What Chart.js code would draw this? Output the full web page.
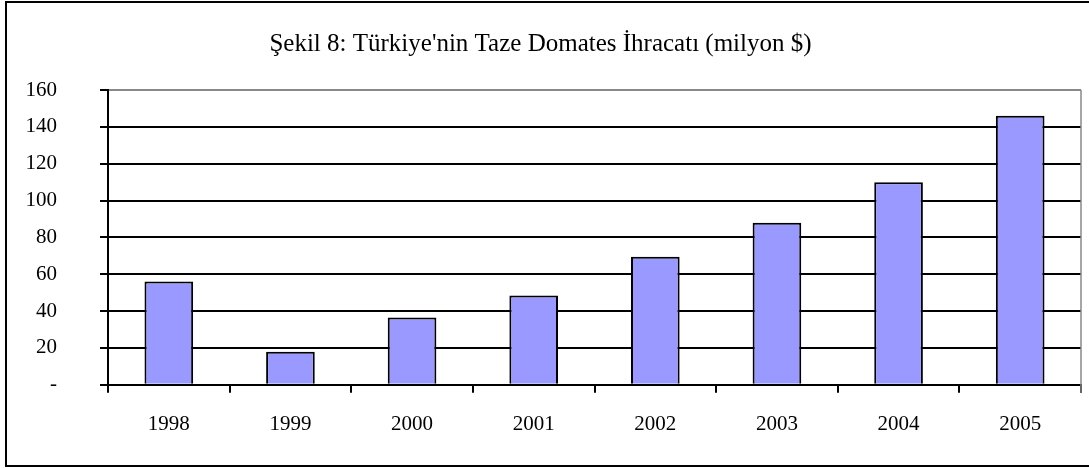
<!DOCTYPE html>
<html>
<head>
<meta charset="utf-8">
<script src="https://cdn.jsdelivr.net/npm/chart.js@4"></script>
<style>
  html, body { margin: 0; padding: 0; background: #fff; }
  #wrap { width: 1089px; height: 468px; }
</style>
</head>
<body>
<div id="wrap"><canvas id="chart"></canvas></div>
<script>
// data
const years = ['1998', '1999', '2000', '2001', '2002', '2003', '2004', '2005'];
const exportValues = [56, 18, 36.5, 48.5, 69.5, 88, 110, 146];
const yTicks = [0, 20, 40, 60, 80, 100, 120, 140, 160];
const chartTitle = "Şekil 8: Türkiye'nin Taze Domates İhracatı (milyon $)";

const serif = 'Liberation Serif, Times New Roman, serif';

// outer frame and gray right edge of the plot
const framePlugin = {
    id: 'frame',
    afterDraw(chart) {
        const ctx = chart.ctx;
        const a = chart.chartArea;
        ctx.save();
        ctx.strokeStyle = '#888';
        ctx.lineWidth = 1.5;
        ctx.beginPath();
        ctx.moveTo(a.right, a.top);
        ctx.lineTo(a.right, a.bottom + 8);
        ctx.stroke();
        ctx.strokeStyle = '#000';
        ctx.lineWidth = 2;
        ctx.strokeRect(6, 2, 1100, 464);
        ctx.restore();
    }
};

new Chart(document.getElementById('chart'), {
    type: 'bar',
    data: {
        labels: years,
        datasets: [{
            data: exportValues,
            backgroundColor: '#9999ff',
            borderColor: '#000',
            borderWidth: 2,
            barPercentage: 0.4,
            categoryPercentage: 1
        }]
    },
    options: {
        responsive: true,
        maintainAspectRatio: false,
        animation: false,
        layout: { padding: { left: 0, right: 8, top: 0, bottom: 12 } },
        plugins: {
            legend: { display: false },
            tooltip: { enabled: false },
            title: {
                display: true,
                text: chartTitle,
                color: '#000',
                font: { family: serif, size: 25, weight: 'normal' },
                padding: { top: 29, bottom: 31 }
            }
        },
        scales: {
            x: {
                grid: {
                    offset: true,
                    drawOnChartArea: false,
                    color: '#000',
                    tickLength: 8,
                    lineWidth: 2
                },
                border: { color: '#000', width: 2 },
                ticks: {
                    color: '#000',
                    padding: 19,
                    font: { family: serif, size: 21 }
                }
            },
            y: {
                min: 0,
                max: 160,
                afterBuildTicks: scale => { scale.ticks = yTicks.map(v => ({ value: v })); },
                afterFit: scale => { scale.width = 108; },
                grid: {
                    color: ctx => (ctx.tick && ctx.tick.value === 160) ? '#888' : '#000',
                    tickColor: '#000',
                    lineWidth: 2,
                    tickLength: 8
                },
                border: { color: '#000', width: 2 },
                ticks: {
                    color: '#000',
                    padding: 43,
                    font: { family: serif, size: 21 },
                    callback: v => v === 0 ? '-' : v
                }
            }
        }
    },
    plugins: [framePlugin]
});
</script>
</body>
</html>
